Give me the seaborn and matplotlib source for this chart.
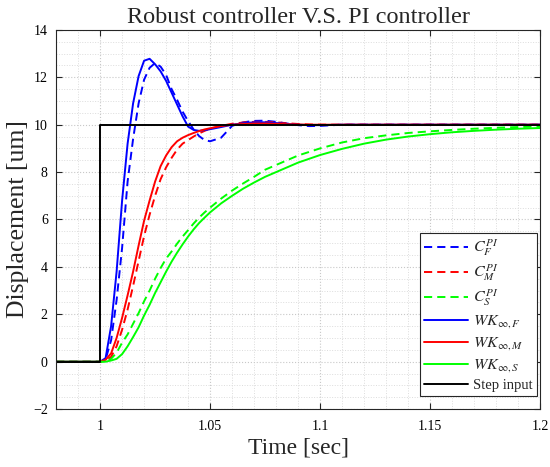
import numpy as np
import pandas as pd
import matplotlib
matplotlib.use("Agg")
import matplotlib.pyplot as plt
import seaborn as sns
from matplotlib.ticker import MultipleLocator, FixedLocator

# ---------------- data ----------------
time = [0.98, 1.000, 1.0025, 1.005, 1.0075, 1.010, 1.0125, 1.015, 1.0175, 1.020,
        1.0225, 1.025, 1.0275, 1.030, 1.0325, 1.035, 1.0375, 1.040, 1.0425, 1.045,
        1.0475, 1.050, 1.055, 1.060, 1.065, 1.070, 1.075, 1.080, 1.085, 1.090,
        1.095, 1.100, 1.110, 1.120, 1.130, 1.140, 1.150, 1.160, 1.170, 1.180,
        1.190, 1.200]

c_pi_f = [0, 0, 0.10, 0.9, 2.6, 4.8, 7.6, 9.4, 10.9, 11.9,
          12.4, 12.6, 12.45, 12.1, 11.5, 11.05, 10.55, 10.15, 9.8, 9.52,
          9.35, 9.3, 9.45, 9.95, 10.1, 10.16, 10.17, 10.12, 10.05, 9.98,
          9.94, 9.95, 10.0, 10.0, 10.0, 10.0, 10.0, 10.0, 10.0, 10.0,
          10.0, 10.0]

c_pi_m = [0, 0, 0.05, 0.2, 0.65, 1.35, 2.2, 3.2, 4.25, 5.3,
          6.2, 7.0, 7.7, 8.2, 8.6, 8.95, 9.2, 9.35, 9.5, 9.63,
          9.74, 9.83, 9.95, 10.04, 10.09, 10.12, 10.12, 10.1, 10.06, 10.03,
          10.01, 10.0, 10.0, 10.0, 10.0, 10.0, 10.0, 10.0, 10.0, 10.0,
          10.0, 10.0]

c_pi_s = [0, 0, 0.02, 0.12, 0.38, 0.8, 1.15, 1.6, 2.05, 2.55,
          3.0, 3.5, 3.95, 4.35, 4.65, 4.98, 5.28, 5.55, 5.83, 6.08,
          6.3, 6.5, 6.88, 7.22, 7.52, 7.8, 8.1, 8.3, 8.5, 8.7,
          8.85, 9.0, 9.25, 9.43, 9.55, 9.65, 9.72, 9.78, 9.83, 9.87,
          9.9, 9.93]

wk_f = [0, 0, 0.15, 1.5, 3.8, 6.8, 9.2, 10.9, 12.05, 12.7,
        12.78, 12.55, 12.25, 11.85, 11.35, 10.85, 10.35, 9.92, 9.78, 9.74,
        9.77, 9.81, 9.9, 10.0, 10.06, 10.1, 10.1, 10.07, 10.03, 10.0,
        9.98, 9.98, 10.0, 10.0, 10.0, 10.0, 10.0, 10.0, 10.0, 10.0,
        10.0, 10.0]

wk_m = [0, 0, 0.08, 0.35, 1.0, 1.85, 2.8, 3.8, 4.9, 5.95,
        6.8, 7.6, 8.25, 8.7, 9.05, 9.3, 9.45, 9.56, 9.65, 9.73,
        9.8, 9.85, 9.94, 10.0, 10.03, 10.05, 10.05, 10.04, 10.02, 10.01,
        10.0, 10.0, 10.0, 10.0, 10.0, 10.0, 10.0, 10.0, 10.0, 10.0,
        10.0, 10.0]

wk_s = [0, 0, 0.0, 0.05, 0.12, 0.32, 0.65, 1.04, 1.45, 1.95,
        2.4, 2.9, 3.35, 3.8, 4.22, 4.6, 4.95, 5.28, 5.58, 5.85,
        6.08, 6.3, 6.68, 7.0, 7.3, 7.56, 7.8, 8.0, 8.2, 8.4,
        8.56, 8.72, 8.98, 9.2, 9.37, 9.5, 9.6, 9.68, 9.74, 9.79,
        9.83, 9.86]

step_t = [0.98, 1.0, 1.0, 1.2]
step_y = [0, 0, 10, 10]

x_ticks = [1.0, 1.05, 1.1, 1.15, 1.2]
x_tick_labels = ["1", "1.05", "1.1", "1.15", "1.2"]
y_ticks = [-2, 0, 2, 4, 6, 8, 10, 12, 14]

series = [
    (c_pi_f, r"$C_{F}^{PI}$", "#0000ff", True),
    (c_pi_m, r"$C_{M}^{PI}$", "#ff0000", True),
    (c_pi_s, r"$C_{S}^{PI}$", "#00ff00", True),
    (wk_f, r"$WK_{\infty,F}$", "#0000ff", False),
    (wk_m, r"$WK_{\infty,M}$", "#ff0000", False),
    (wk_s, r"$WK_{\infty,S}$", "#00ff00", False),
]

# ---------------- styling ----------------
sns.set_theme(style="white")
plt.rcParams["font.family"] = ["Liberation Serif", "DejaVu Serif"]
plt.rcParams["mathtext.fontset"] = "stix"

fig = plt.figure(figsize=(5.5, 4.67), dpi=100)
ax = fig.add_axes([0.102, 0.124, 0.880, 0.812])

for vals, lab, col, dashed in series:
    df = pd.DataFrame({"t": time, "y": vals})
    lines_before = len(ax.lines)
    sns.lineplot(data=df, x="t", y="y", ax=ax, color=col,
                 linewidth=1.4, label=lab, estimator=None, sort=False)
    if dashed:
        ax.lines[lines_before].set_dashes((4.2, 2.6))

df_step = pd.DataFrame({"t": step_t, "y": step_y})
sns.lineplot(data=df_step, x="t", y="y", ax=ax, color="black", linewidth=1.4,
             label="Step input", estimator=None, sort=False)

ax.set_xlim(0.98, 1.2)
ax.set_ylim(-2, 14)
ax.xaxis.set_major_locator(FixedLocator(x_ticks))
ax.set_xticklabels(x_tick_labels)
ax.yaxis.set_major_locator(FixedLocator(y_ticks))
ax.xaxis.set_minor_locator(MultipleLocator(0.01))
ax.yaxis.set_minor_locator(MultipleLocator(0.5))

ax.grid(True, which="major", linestyle=":", color="#c8c8c8", linewidth=0.8)
ax.grid(True, which="minor", linestyle=":", color="#dcdcdc", linewidth=0.7)
ax.set_axisbelow(True)

for sp in ax.spines.values():
    sp.set_visible(True)
    sp.set_color("#262626")
    sp.set_linewidth(0.8)

ax.tick_params(axis="both", which="major", direction="in", length=4, width=0.8,
               top=True, right=True, bottom=True, left=True,
               labelsize=10, colors="#262626")
ax.tick_params(axis="x", which="major", pad=8)
ax.tick_params(axis="y", which="major", pad=6)
ax.tick_params(axis="both", which="minor", length=0, top=True, right=True)
for lbl in ax.get_xticklabels() + ax.get_yticklabels():
    lbl.set_color("black")

ax.set_title("Robust controller V.S. PI controller", fontsize=17.5, pad=5)
ax.set_xlabel("Time [sec]", fontsize=17, labelpad=3)
ax.set_ylabel("Displacement [um]", fontsize=18.5, labelpad=3)

leg = ax.legend(loc="lower right", bbox_to_anchor=(0.994, 0.034),
                fontsize=10.5, frameon=True, fancybox=False,
                edgecolor="#262626", framealpha=1, handlelength=3.0,
                labelspacing=0.3, borderaxespad=0.0, handletextpad=0.35,
                borderpad=0.3)
leg.get_frame().set_linewidth(0.8)
for t in leg.get_texts()[:6]:
    t.set_fontsize(11.5)
for h in leg.get_lines()[:3]:
    h.set_dashes((4.2, 2.6))

fig.savefig("out.png", dpi=100)
